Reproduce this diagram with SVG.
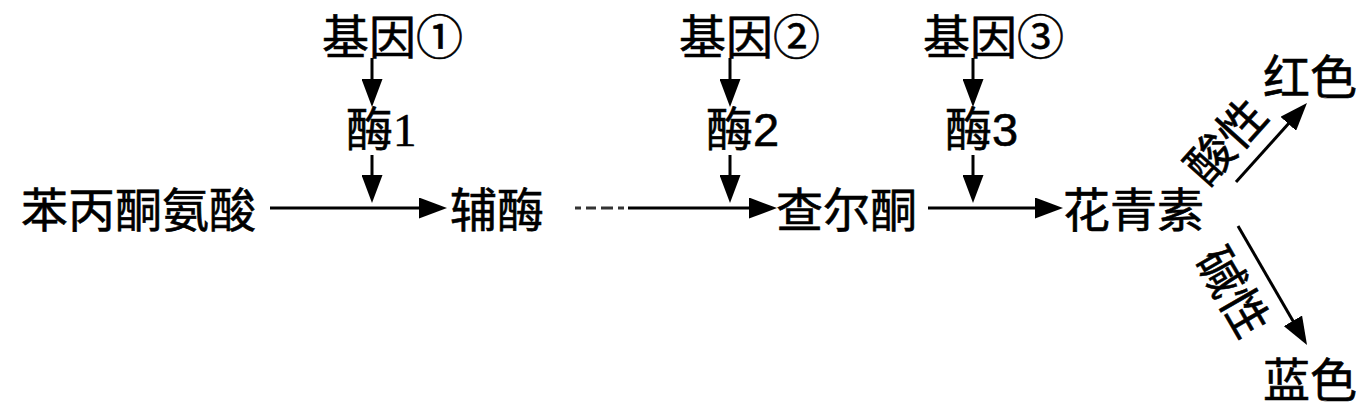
<svg xmlns="http://www.w3.org/2000/svg" width="1371" height="414" viewBox="0 0 1371 414">
<style>
.t{font-family:"Noto Sans CJK SC","Noto Sans",sans-serif;font-size:47px;fill:#000;stroke:#000;stroke-width:0.6}
.ds{font-family:"Liberation Serif",serif}
.dn{font-family:"Liberation Sans",sans-serif}
.c{stroke:#000;stroke-width:3;fill:none;marker-end:url(#ah)}
</style>
<defs>
<marker id="ah" markerUnits="userSpaceOnUse" viewBox="0 -10.5 28 21" refX="18" refY="0" markerWidth="28" markerHeight="21" orient="auto">
<path d="M0,-10.5 L28,0 L0,10.5 Z" fill="#000"/>
</marker>
</defs>
<rect width="1371" height="414" fill="#fff"/>
<g id="connectors">
<line class="c" x1="372" y1="58" x2="372" y2="97"/>
<line class="c" x1="372" y1="155" x2="372" y2="193"/>
<line class="c" x1="730" y1="58" x2="730" y2="97"/>
<line class="c" x1="730" y1="155" x2="730" y2="193"/>
<line class="c" x1="973" y1="58" x2="973" y2="97"/>
<line class="c" x1="973" y1="155" x2="973" y2="193"/>
<line class="c" x1="270" y1="208" x2="437" y2="208"/>
<line x1="575" y1="208" x2="624" y2="208" stroke="#333" stroke-width="3" stroke-dasharray="6 5 10 5 12 5 6"/>
<line class="c" x1="628" y1="208" x2="767" y2="208"/>
<line class="c" x1="928" y1="208" x2="1053" y2="208"/>
<line class="c" x1="1236" y1="182" x2="1300.3" y2="110.4"/>
<line class="c" x1="1238" y1="226" x2="1302" y2="336.4"/>
</g>
<g id="gene1"><text class="t" x="322" y="54">基因①</text></g>
<g id="enzyme1"><text class="t" x="346" y="146">酶<tspan class="ds">1</tspan></text></g>
<g id="gene2"><text class="t" x="679" y="54">基因②</text></g>
<g id="enzyme2"><text class="t" x="706" y="146">酶<tspan class="dn">2</tspan></text></g>
<g id="gene3"><text class="t" x="923" y="54">基因③</text></g>
<g id="enzyme3"><text class="t" x="945" y="146">酶<tspan class="dn">3</tspan></text></g>
<g id="phenylalanine"><text class="t" x="21" y="227">苯丙酮氨酸</text></g>
<g id="coenzyme"><text class="t" x="450" y="227">辅酶</text></g>
<g id="chalcone"><text class="t" x="776" y="227">查尔酮</text></g>
<g id="anthocyanin"><text class="t" x="1063" y="227">花青素</text></g>
<g id="red"><text class="t" x="1263" y="94">红色</text></g>
<g id="blue"><text class="t" x="1263" y="397">蓝色</text></g>
<g id="acid-label"><text class="t" text-anchor="middle" transform="translate(1226,141) rotate(-48)" x="0" y="17">酸性</text></g>
<g id="base-label"><text class="t" text-anchor="middle" transform="translate(1233,292) rotate(60)" x="0" y="17">碱性</text></g>
</svg>
